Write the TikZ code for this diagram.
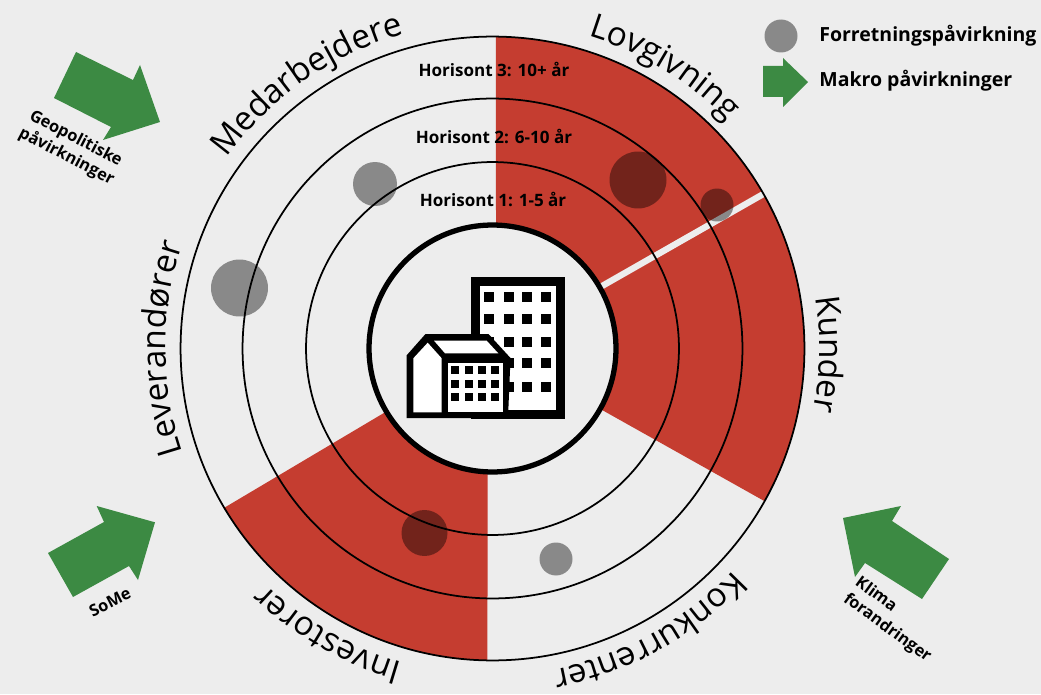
\documentclass[tikz,border=0pt]{standalone}
\usepackage{fontspec}
\setmainfont{Open Sans}
\usepackage{tikz}
\usetikzlibrary{positioning,calc,decorations.text}
\definecolor{paper}{HTML}{EDEDED}
\definecolor{sectorred}{HTML}{C53D30}
\definecolor{arrowgreen}{HTML}{3C8A43}
\newcommand{\ringfont}{\fontsize{19}{21}\selectfont}

\begin{document}
\begin{tikzpicture}[
x=0.02cm, y=0.02cm,
ring/.style={circle, draw=black, line width=1pt, inner sep=0pt},
impact/.style={circle, fill=black, fill opacity=0.42, inner sep=0pt},
macro/.style={fill=arrowgreen},
horizon/.style={font=\bfseries\fontsize{9.7}{11}\selectfont, inner sep=0pt},
legendtext/.style={font=\bfseries\fontsize{11.1}{13}\selectfont, anchor=west, inner sep=0pt},
macrotext/.style={font=\bfseries\fontsize{9.3}{11.5}\selectfont, inner sep=0pt},
window/.style={fill=black},
house/.style={draw=black, fill=white, line width=5pt, line join=miter},
]

\fill[paper] (0,0) rectangle (1041,694);
\useasboundingbox (0,0) rectangle (1041,694);
\coordinate (center) at (492.5,345.5);

% sectors
\fill[sectorred] (496,345.5) -- ($(center)+(89.36:312)$) arc[start angle=89.36, end angle=-29.3, radius=312] -- (center) -- cycle;
\fill[sectorred] (center) -- ++(210.7:312) arc[start angle=210.7, end angle=269.08, radius=312] -- (487.5,345.5) -- cycle;
\draw[paper, line width=3.6pt] (center) -- ++(29.7:313);

\node[ring, minimum size=12.48cm] (ringThree) at (center) {};
\node[ring, minimum size=10cm] (ringTwo) at (center) {};
\node[ring, minimum size=7.46cm] (ringOne) at (center) {};
\node[circle, draw=black, fill=paper, line width=3pt, inner sep=0pt, minimum size=4.94cm] (hub) at (center) {};

% impacts
\node[impact, minimum size=0.88cm] (dotA) at (375,510) {};
\node[impact, minimum size=1.14cm] (dotB) at (239.5,406) {};
\node[impact, minimum size=1.14cm] (dotC) at (638,514) {};
\node[impact, minimum size=0.66cm] (dotD) at (717,489) {};
\node[impact, minimum size=0.92cm] (dotE) at (424.5,161) {};
\node[impact, minimum size=0.66cm] (dotF) at (556,135) {};

\node[horizon] (horizonThree) at (494,625) {Horisont 3: 10+ år};
\node[horizon] (horizonTwo) at (494,558) {Horisont 2: 6-10 år};
\node[horizon] (horizonOne) at (493,495) {Horisont 1: 1-5 år};

% ring labels
\foreach \ang/\span/\name in {125/30/Medarbejdere, 58.5/25/Lovgivning, -1/20/Kunder, -61/30/Konkurrenter, 240/25/Investorer, 180/30/Leverandører}
  \path[decorate, decoration={text along path, text align=center, text={|\ringfont|\name}}]
    (center) ++(\ang+\span:327) arc[start angle=\ang+\span, end angle=\ang-\span, radius=327];

% building
\draw[house] (475.5,279.5) rectangle (560.5,412.5);
\foreach \wx in {489.3,509,527.3,546.3}
  \foreach \wy in {397.3,375,352.3,330.7,307.3}
    \fill[window] (\wx-5,\wy-5) rectangle (\wx+5,\wy+5);
\fill[black] (406.5,276) -- (406.5,338.5) -- (425.5,360) -- (488.5,360) -- (510.5,336) -- (508,276) -- cycle;
\fill[white] (413.3,281.7) -- (413.3,335.7) -- (427.7,351.3) -- (441.7,335.7) -- (441.7,281.7) -- cycle;
\fill[white] (434,353.3) -- (486.7,353.3) -- (498.3,340.7) -- (445,340.7) -- cycle;
\fill[white] (448.3,281.7) rectangle (502.7,330.7);
\foreach \wx in {455,468.7,482.3,495}
  \foreach \wy in {324,310.3,296.7}
    \fill[window] (\wx-4,\wy-4) rectangle (\wx+4,\wy+4);

% macro arrows
\fill[macro] (76,642) -- (133,614) -- (140,629) -- (160,572) -- (103,554) -- (111,567) -- (54,596) -- cycle;
\fill[macro] (843,176) -- (901,188) -- (892,173) -- (949,135) -- (922,95) -- (865,131) -- (855,117) -- cycle;
\fill[macro] (96.7,188) -- (155,171.7) -- (138,114) -- (129,128) -- (73,97) -- (48,141) -- (104,172) -- cycle;

\node[macrotext, rotate=-27.5, align=center] (geoText) at (71,546) {Geopolitiske\\påvirkninger};
\node[macrotext, rotate=27] (someText) at (110,92) {SoMe};
\node[macrotext, rotate=-36, align=left] (klimaText) at (893,74) {Klima\\forandringer};

% legend
\node[impact, minimum size=0.66cm] (legendDot) at (781,658) {};
\node[legendtext] (legendDotText) at (819,658) {Forretningspåvirkning};
\fill[macro] (763,628) -- (783,628) -- (783,636) -- (808,612) -- (783,587) -- (783,597) -- (763,597) -- cycle;
\node[legendtext] (legendArrowText) at (819,613) {Makro påvirkninger};

\end{tikzpicture}
\end{document}
